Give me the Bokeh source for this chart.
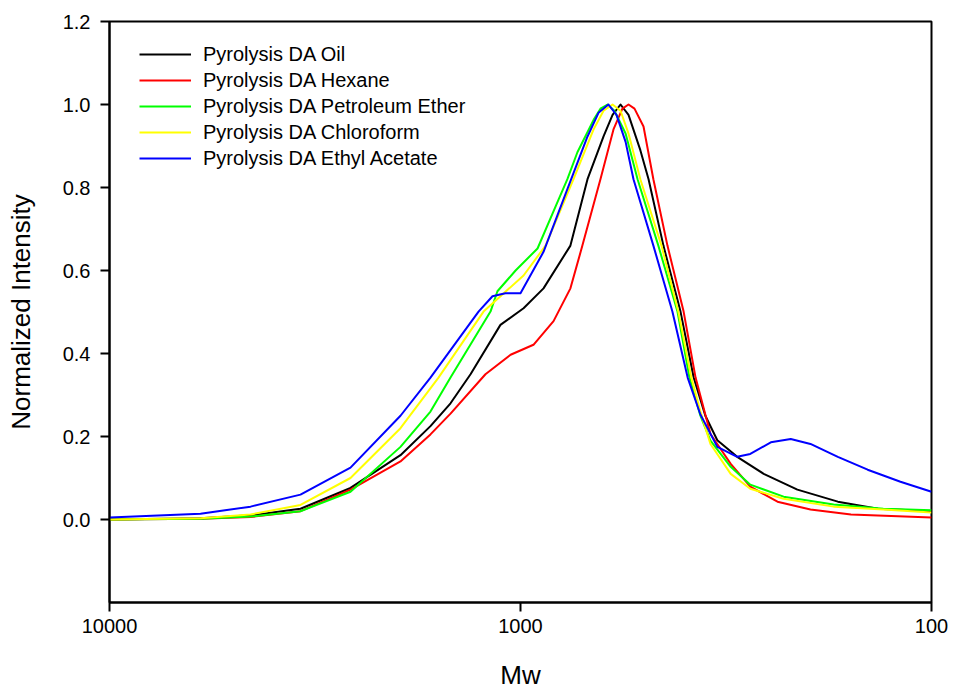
from bokeh.plotting import figure
from bokeh.models import FixedTicker, Legend, LegendItem, Range1d, PrintfTickFormatter
from bokeh.embed import file_html
from bokeh.resources import INLINE

# ---- data ----
oil_mw = [10000, 6005, 4538, 3430, 2592, 1959, 1656, 1480, 1323, 1119, 983, 879, 756, 687, 628, 597, 571, 546, 511, 488,
          449, 408, 379, 355, 332, 297, 256, 212, 169, 135, 100]
oil_y = [0.0, 0.003, 0.01, 0.026, 0.076, 0.155, 0.225, 0.28, 0.35, 0.469, 0.509, 0.557, 0.66, 0.82, 0.923, 0.975, 1.0,
         0.975, 0.89, 0.82, 0.66, 0.501, 0.342, 0.25, 0.191, 0.151, 0.11, 0.072, 0.043, 0.026, 0.02]

hex_mw = [10000, 6005, 4538, 3430, 2592, 1959, 1656, 1480, 1217, 1057, 930, 831, 756, 707, 639, 594, 565, 546, 528, 502,
          475, 439, 401, 375, 345, 308, 276, 237, 197, 157, 100]
hex_y = [0.0, 0.002, 0.006, 0.02, 0.072, 0.14, 0.205, 0.255, 0.35, 0.397, 0.421, 0.478, 0.557, 0.66, 0.82, 0.94, 0.99,
         1.0, 0.99, 0.947, 0.82, 0.66, 0.501, 0.342, 0.206, 0.134, 0.079, 0.043, 0.024, 0.012, 0.005]

pet_mw = [10000, 6005, 4538, 3430, 2592, 1959, 1656, 1480, 1183, 1138, 1028, 909, 813, 769, 727, 664, 639, 614, 591, 555,
          519, 462, 415, 388, 365, 345, 308, 276, 229, 173, 131, 100]
pet_y = [0.0, 0.002, 0.007, 0.02, 0.067, 0.175, 0.26, 0.342, 0.501, 0.55, 0.60, 0.653, 0.765, 0.82, 0.885, 0.963, 0.99,
         1.0, 0.985, 0.93, 0.82, 0.66, 0.501, 0.342, 0.25, 0.19, 0.127, 0.084, 0.055, 0.036, 0.026, 0.022]

chl_mw = [10000, 6005, 4538, 3430, 2592, 1959, 1583, 1230, 983, 869, 743, 664, 628, 597, 571, 546, 511, 454, 413, 384,
          365, 345, 308, 276, 229, 173, 131, 100]
chl_y = [0.0, 0.003, 0.012, 0.035, 0.10, 0.22, 0.342, 0.501, 0.588, 0.66, 0.82, 0.94, 0.985, 1.0, 0.985, 0.93, 0.82,
         0.66, 0.501, 0.342, 0.26, 0.182, 0.11, 0.074, 0.05, 0.031, 0.024, 0.017]

eth_mw = [10000, 6005, 4538, 3430, 2592, 1959, 1656, 1265, 1170, 1088, 1000, 879, 769, 687, 646, 611, 584, 555, 531, 475,
          427, 392, 365, 332, 297, 276, 246, 220, 197, 169, 143, 119, 100]
eth_y = [0.005, 0.014, 0.031, 0.06, 0.125, 0.25, 0.342, 0.501, 0.538, 0.545, 0.545, 0.645, 0.796, 0.923, 0.98, 1.0, 0.975,
         0.91, 0.82, 0.66, 0.501, 0.342, 0.253, 0.175, 0.151, 0.158, 0.186, 0.194, 0.182, 0.151, 0.12, 0.091, 0.067]

series_names = ["Pyrolysis DA Oil", "Pyrolysis DA Hexane", "Pyrolysis DA Petroleum Ether",
                "Pyrolysis DA Chloroform", "Pyrolysis DA Ethyl Acetate"]
series_colors = ["#000000", "#ff0000", "#00ff00", "#ffff00", "#0000ff"]
series_x = [oil_mw, hex_mw, pet_mw, chl_mw, eth_mw]
series_y = [oil_y, hex_y, pet_y, chl_y, eth_y]

x_ticks = [10000, 1000, 100]
y_ticks = [0.0, 0.2, 0.4, 0.6, 0.8, 1.0, 1.2]

FONT = "Liberation Sans"

p = figure(width=954, height=692, x_axis_type="log",
           x_range=Range1d(10000, 100), y_range=Range1d(-0.2, 1.2),
           output_backend="svg", toolbar_location=None,
           min_border_left=109, min_border_right=23, min_border_top=21, min_border_bottom=85)

p.xgrid.visible = False
p.ygrid.visible = False
p.outline_line_color = "black"
p.outline_line_width = 2
p.background_fill_color = "white"
p.border_fill_color = "white"

renderers = []
for xs, ys, c in zip(series_x, series_y, series_colors):
    r = p.line(xs, ys, line_color=c, line_width=2, line_join="round")
    renderers.append(r)

# axes
for ax in (p.xaxis[0], p.yaxis[0]):
    ax.axis_line_width = 2
    ax.axis_line_color = "black"
    ax.major_tick_line_width = 2
    ax.major_tick_out = 9
    ax.major_tick_in = 0
    ax.minor_tick_out = 0
    ax.minor_tick_in = 0
    ax.major_label_text_font = FONT
    ax.major_label_text_font_size = "20px"
    ax.major_label_text_color = "black"
    ax.axis_label_text_font = FONT
    ax.axis_label_text_font_size = "26px"
    ax.axis_label_text_font_style = "normal"
    ax.axis_label_text_color = "black"

p.xaxis[0].ticker = FixedTicker(ticks=x_ticks, minor_ticks=[])
p.xaxis[0].formatter = PrintfTickFormatter(format="%d")
p.xaxis[0].axis_label = "Mw"
p.xaxis[0].major_label_standoff = 7
p.xaxis[0].axis_label_standoff = 24

p.yaxis[0].ticker = FixedTicker(ticks=y_ticks, minor_ticks=[])
p.yaxis[0].formatter = PrintfTickFormatter(format="%.1f")
p.yaxis[0].axis_label = "Normalized Intensity"
p.yaxis[0].major_label_standoff = 10
p.yaxis[0].axis_label_standoff = 24

legend = Legend(items=[LegendItem(label=n, renderers=[r]) for n, r in zip(series_names, renderers)],
                location=(30, 431), orientation="vertical")
legend.margin = 0
legend.padding = 0
legend.spacing = 0
legend.glyph_width = 52
legend.glyph_height = 26
legend.label_height = 26
legend.label_standoff = 12
legend.label_text_font = FONT
legend.label_text_font_size = "20px"
legend.label_text_color = "black"
legend.background_fill_alpha = 0
legend.border_line_alpha = 0
p.add_layout(legend, "center")

open("out.html", "w").write(file_html(p, INLINE))
